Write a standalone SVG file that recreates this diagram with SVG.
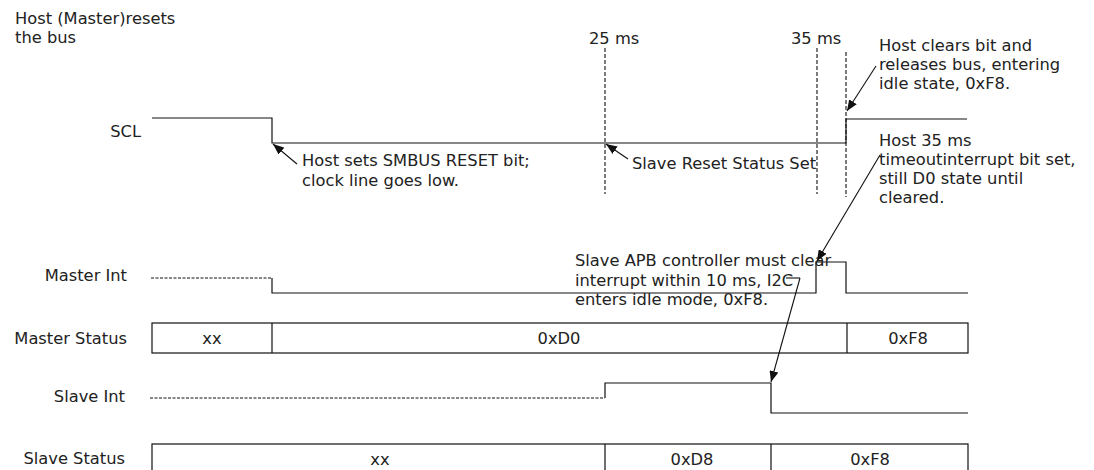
<svg xmlns="http://www.w3.org/2000/svg" width="1094" height="470" viewBox="0 0 1094 470">
<style>
text{font-family:"DejaVu Sans","Verdana",sans-serif;font-size:16.3px;fill:#222}
.lbl{text-anchor:end}
.mid{text-anchor:middle}
.w{fill:none;stroke:#111;stroke-width:1.2}
.dash{fill:none;stroke:#111;stroke-width:1.1;stroke-dasharray:4 2}
.sdash{fill:none;stroke:#111;stroke-width:1.1;stroke-dasharray:3 1.5}
.box{fill:none;stroke:#111;stroke-width:1.2}
.arr{fill:none;stroke:#111;stroke-width:1.1;marker-end:url(#ah)}
</style>
<defs>
<marker id="ah" markerUnits="userSpaceOnUse" markerWidth="12" markerHeight="9" refX="11" refY="4.5" orient="auto">
<path d="M0,0 L11,4.5 L0,9 Z" fill="#111"/>
</marker>
</defs>
<rect width="1094" height="470" fill="#fff"/>
<g id="title"><text x="15" y="24">Host (Master)resets</text><text x="15" y="43">the bus</text></g>
<g id="labels">
<text class="lbl" x="141" y="137">SCL</text>
<text class="lbl" x="127" y="281">Master Int</text>
<text class="lbl" x="127" y="344">Master Status</text>
<text class="lbl" x="125" y="402">Slave Int</text>
<text class="lbl" x="125" y="464">Slave Status</text>
</g>
<g id="time-markers">
<text x="589" y="44">25 ms</text>
<text x="791" y="44">35 ms</text>
<path class="dash" d="M605,48 V194"/>
<path class="dash" d="M817,48 V194"/>
<path class="dash" d="M846,52 V197"/>
</g>
<g id="scl"><path class="w" d="M152,118 H272 V143 H846 V119 H967"/></g>
<g id="master-int">
<path class="sdash" d="M151,278 H272"/>
<path class="w" d="M272,278 V293 H816 V262 H846 V293 H968"/>
</g>
<g id="master-status">
<rect class="box" x="152" y="323" width="816" height="30"/>
<path class="w" d="M272,323 V353 M847,323 V353"/>
<text class="mid" x="212" y="344">xx</text>
<text class="mid" x="559" y="344">0xD0</text>
<text class="mid" x="908" y="344">0xF8</text>
</g>
<g id="slave-int">
<path class="sdash" d="M150,398 H605"/>
<path class="w" d="M605,398 V383 H771 V413 H968"/>
</g>
<g id="slave-status">
<rect class="box" x="152" y="444" width="816" height="32"/>
<path class="w" d="M605,444 V476 M771,444 V476"/>
<text class="mid" x="380" y="465">xx</text>
<text class="mid" x="692" y="465">0xD8</text>
<text class="mid" x="870" y="465">0xF8</text>
</g>
<g id="notes">
<text x="302" y="166">Host sets SMBUS RESET bit;</text>
<text x="302" y="186">clock line goes low.</text>
<text x="632" y="169">Slave Reset Status Set</text>
<text x="879" y="51">Host clears bit and</text>
<text x="879" y="70">releases bus, entering</text>
<text x="879" y="89">idle state, 0xF8.</text>
<text x="879" y="146">Host 35 ms</text>
<text x="879" y="165">timeoutinterrupt bit set,</text>
<text x="879" y="184">still D0 state until</text>
<text x="879" y="203">cleared.</text>
<text x="575" y="266">Slave APB controller must clear</text>
<text x="575" y="286">interrupt within 10 ms, I2C</text>
<text x="575" y="305">enters idle mode, 0xF8.</text>
</g>
<g id="connectors">
<path class="arr" d="M297,164 L273,144"/>
<path class="arr" d="M628,159 L606,144"/>
<path class="arr" d="M876,66 L847,111"/>
<path class="arr" d="M880,155 L817,261"/>
<path class="w" d="M786,278 H800" style="stroke-width:1.1"/>
<path class="arr" d="M800,278 L771,382"/>
</g>
</svg>
